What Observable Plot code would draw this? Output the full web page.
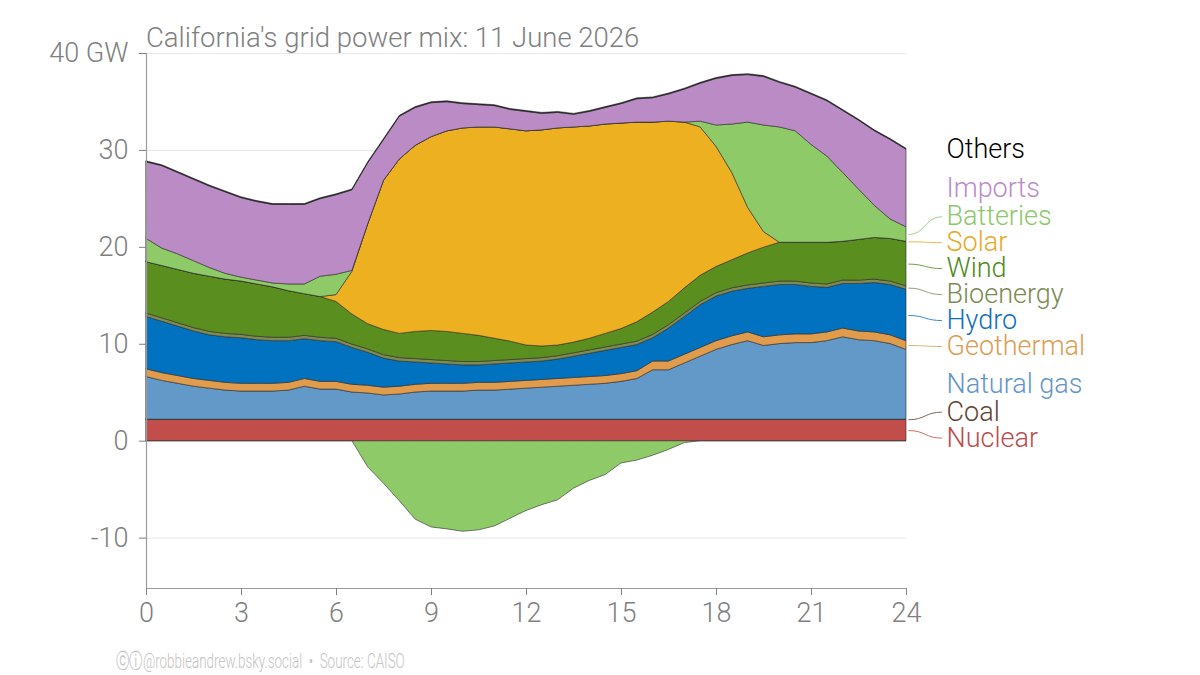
<!DOCTYPE html>
<html>
<head>
<meta charset="utf-8">
<script src="https://cdn.jsdelivr.net/npm/d3@7"></script>
<script src="https://cdn.jsdelivr.net/npm/@observablehq/plot@0.6"></script>
<style>
  html, body { margin: 0; padding: 0; background: #fff; }
  #wrap { position: relative; width: 1200px; height: 675px; overflow: hidden; font-family: Roboto, "Liberation Sans", sans-serif; }
  #title { position: absolute; left: 146px; top: 21px; font-size: 27.5px; color: #808080; font-weight: 300; white-space: nowrap; }
  #footer { position: absolute; left: 116px; top: 647px; font-size: 21px; color: #c4c4c4; font-weight: 300; white-space: nowrap; transform: scaleX(0.64); transform-origin: left center; }
  #chart { position: absolute; left: 0; top: 0; }
</style>
</head>
<body>
<div id="wrap">
  <div id="chart"></div>
  <div id="title">California's grid power mix: 11 June 2026</div>
  <div id="footer">ⓒⓘ@robbieandrew.bsky.social &nbsp;•&nbsp; Source: CAISO</div>
</div>
<script>
// Half-hourly time steps, hour 0 .. 24
const hours = d3.range(0, 24.01, 0.5);

// GW by source
const nuclear = [2.2,2.2,2.2,2.2,2.2,2.2,2.2,2.2,2.2,2.2,2.2,2.2,2.2,2.2,2.2,2.2,2.2,2.2,2.2,2.2,2.2,2.2,2.2,2.2,2.2,2.2,2.2,2.2,2.2,2.2,2.2,2.2,2.2,2.2,2.2,2.2,2.2,2.2,2.2,2.2,2.2,2.2,2.2,2.2,2.2,2.2,2.2,2.2,2.2];
const coal = [0.02,0.02,0.02,0.02,0.02,0.02,0.02,0.02,0.02,0.02,0.02,0.02,0.02,0.02,0.02,0.02,0.02,0.02,0.02,0.02,0.02,0.02,0.02,0.02,0.02,0.02,0.02,0.02,0.02,0.02,0.02,0.02,0.02,0.02,0.02,0.02,0.02,0.02,0.02,0.02,0.02,0.02,0.02,0.02,0.02,0.02,0.02,0.02,0.02];
const naturalGas = [4.4,4.0,3.7,3.4,3.2,3.0,2.9,2.9,2.9,3.0,3.4,3.1,3.1,2.8,2.7,2.5,2.6,2.8,2.9,2.9,2.9,3.0,3.0,3.1,3.2,3.3,3.4,3.5,3.6,3.7,3.9,4.2,5.1,5.1,5.8,6.5,7.2,7.7,8.1,7.6,7.8,7.9,7.9,8.1,8.5,8.2,8.1,7.8,7.2];
const geothermal = [0.8,0.8,0.8,0.8,0.8,0.8,0.8,0.8,0.8,0.8,0.8,0.8,0.8,0.8,0.8,0.8,0.8,0.8,0.8,0.8,0.8,0.8,0.8,0.8,0.8,0.8,0.8,0.8,0.8,0.8,0.8,0.8,0.9,0.9,0.9,0.9,0.9,0.9,0.9,0.9,0.9,0.9,0.9,0.9,0.9,0.9,0.9,0.9,0.9];
const hydro = [5.4,5.3,5.1,4.9,4.7,4.7,4.7,4.5,4.4,4.3,4.1,4.2,4.1,3.8,3.4,3.0,2.6,2.3,2.1,2.0,1.9,1.8,1.9,1.9,1.9,1.9,2.0,2.2,2.4,2.6,2.7,2.7,2.4,3.4,3.9,4.4,4.6,4.6,4.5,5.2,5.2,5.1,4.9,4.6,4.6,4.9,5.1,5.2,5.3];
const bioenergy = [0.35,0.35,0.35,0.35,0.35,0.35,0.35,0.35,0.35,0.35,0.35,0.35,0.35,0.35,0.35,0.35,0.35,0.35,0.35,0.35,0.35,0.35,0.35,0.35,0.35,0.35,0.35,0.35,0.35,0.35,0.35,0.35,0.35,0.35,0.35,0.35,0.35,0.35,0.35,0.35,0.35,0.35,0.35,0.35,0.35,0.35,0.35,0.35,0.35];
const wind = [5.3,5.4,5.5,5.6,5.7,5.6,5.5,5.4,5.2,4.8,4.3,4.2,3.8,3.1,2.6,2.6,2.5,2.8,3.0,3.0,2.9,2.7,2.3,1.9,1.4,1.2,1.1,1.1,1.2,1.4,1.6,2.0,2.3,2.4,2.6,2.7,2.7,2.9,3.3,3.7,4.0,4.0,4.2,4.3,4.0,4.2,4.3,4.4,4.6];
const solar = [0,0,0,0,0,0,0,0,0,0,0,0,0.7,4.4,10.3,15.4,18.0,19.2,20.0,20.7,21.2,21.5,21.8,21.9,22.1,22.3,22.4,22.2,21.9,21.6,21.2,20.6,19.6,18.6,17.1,15.3,12.4,9.0,4.7,1.6,0,0,0,0,0,0,0,0,0];
const batteries = [2.4,1.8,1.6,1.3,0.9,0.6,0.4,0.4,0.4,0.7,1.0,2.1,2.1,0.1,-2.7,-4.4,-6.2,-8.1,-8.9,-9.1,-9.35,-9.2,-8.8,-8.0,-7.2,-6.6,-6.1,-4.9,-4.1,-3.5,-2.3,-2.0,-1.5,-0.9,-0.2,0.6,2.2,5.0,8.8,11.0,11.9,11.5,10.1,8.9,7.1,5.2,3.3,2.0,1.5];
const imports = [7.9,8.5,8.4,8.4,8.4,8.4,8.2,8.1,8.1,8.2,8.2,8.0,8.2,8.3,6.3,4.2,4.4,3.9,3.5,3.0,2.5,2.3,2.2,2.0,2.0,1.7,1.6,1.3,1.5,1.7,2.0,2.4,2.5,2.8,3.4,3.9,4.8,5.0,4.9,5.0,4.6,4.5,5.2,5.7,6.4,7.1,7.7,8.2,8.0];
const others = [0.1,0.1,0.1,0.1,0.1,0.1,0.1,0.1,0.1,0.1,0.1,0.1,0.1,0.1,0.1,0.1,0.1,0.1,0.1,0.1,0.1,0.1,0.1,0.1,0.1,0.1,0.1,0.1,0.1,0.1,0.1,0.1,0.1,0.1,0.1,0.1,0.1,0.1,0.1,0.1,0.1,0.1,0.1,0.1,0.1,0.1,0.1,0.1,0.1];

// Series (bottom to top), fill colours and label colours
const seriesNames = ["Nuclear","Coal","Natural gas","Geothermal","Hydro","Bioenergy","Wind","Solar","Batteries","Imports","Others"];
const seriesValues = [nuclear, coal, naturalGas, geothermal, hydro, bioenergy, wind, solar, batteries, imports, others];
const fillColors = ["#c24e4c","#6b4c3b","#6399c9","#e09b4c","#0072bf","#7e8b52","#5a8e1e","#ecb021","#8fca69","#bb8bc6","#1a1a1a"];
const labelColors = ["#c04a49","#5e4434","#6396c6","#dc9d50","#0f6fbe","#7d8a54","#4f8a1b","#e9a826","#8dc76b","#b98bc8","#000000"];
const noConnector = ["Natural gas","Imports","Others"];

const yTicks = [-10, 0, 10, 20, 30, 40];
const xTicks = [0, 3, 6, 9, 12, 15, 18, 21, 24];
const yMin = -15.2, yMax = 40;

// Long table. Battery charging (negative) is its own stack layer, placed first.
const rows = [];
hours.forEach((h, i) => rows.push({hour: h, series: "Batteries (charging)", group: "Batteries", value: Math.min(batteries[i], 0)}));
seriesNames.forEach((name, s) => {
  hours.forEach((h, i) => {
    const v = seriesValues[s][i];
    rows.push({hour: h, series: name, group: name, value: name === "Batteries" ? Math.max(v, 0) : v});
  });
});

// Label targets: middle of each layer at the last hour, then spread apart
const last = hours.length - 1;
let cum = 0;
const labels = seriesNames.map((name, s) => {
  let v = seriesValues[s][last];
  if (name === "Batteries") v = Math.max(v, 0);
  const target = cum + v / 2;
  cum += v;
  return {name, target, color: labelColors[s]};
});
(function dodge(items, gap) {
  const sorted = items.slice().sort((a, b) => a.target - b.target);
  const clusters = [];
  for (const it of sorted) {
    clusters.push({items: [it], sum: it.target});
    while (clusters.length > 1) {
      const b = clusters[clusters.length - 1], a = clusters[clusters.length - 2];
      const aTop = a.sum / a.items.length + (a.items.length - 1) / 2 * gap;
      const bBot = b.sum / b.items.length - (b.items.length - 1) / 2 * gap;
      if (bBot - aTop < gap) {
        clusters.pop(); clusters.pop();
        clusters.push({items: a.items.concat(b.items), sum: a.sum + b.sum});
      } else break;
    }
  }
  for (const c of clusters) {
    const mean = c.sum / c.items.length;
    c.items.forEach((it, k) => it.y = mean + (k - (c.items.length - 1) / 2) * gap);
  }
})(labels, 2.68);

const labelMarks = [];
labels.forEach(l => {
  if (!noConnector.includes(l.name)) {
    labelMarks.push(Plot.link([l], {x1: () => 24.06, y1: "target", x2: () => 25.12, y2: "y", stroke: l.color, strokeWidth: 1, strokeOpacity: 0.8, curve: "bump-x"}));
  }
  labelMarks.push(Plot.text([l], {x: () => 24, y: "y", text: "name", fill: l.color, dx: 40, textAnchor: "start", lineAnchor: "middle", fontSize: 27}));
});

const chart = Plot.plot({
  width: 1200,
  height: 675,
  marginTop: 53,
  marginBottom: 87,
  marginLeft: 146,
  marginRight: 294,
  style: {fontFamily: "Roboto, 'Liberation Sans', sans-serif", fontWeight: 300, background: "#fff", overflow: "visible"},
  x: {domain: [0, 24]},
  y: {domain: [yMin, yMax]},
  color: {domain: seriesNames, range: fillColors},
  marks: [
    Plot.gridY(yTicks, {stroke: "#e8e8e8", strokeOpacity: 1}),
    Plot.areaY(rows, {x: "hour", y: "value", z: "series", fill: "group", stroke: "#2b2b2b", strokeWidth: 0.7, strokeOpacity: 0.85, order: null}),
    Plot.ruleX([0], {stroke: "#9a9a9a", strokeWidth: 1.2}),
    Plot.ruleY([yMin], {stroke: "#9a9a9a", strokeWidth: 1.2}),
    Plot.axisY(yTicks, {tickFormat: d => d === 40 ? "40 GW" : String(d), tickSize: 7, tickPadding: 11, fontSize: 27, color: "#808080", label: null}),
    Plot.axisX(xTicks, {tickSize: 7, tickPadding: 7, fontSize: 27, color: "#808080", label: null}),
    ...labelMarks
  ]
});
document.getElementById("chart").appendChild(chart);
</script>
</body>
</html>
